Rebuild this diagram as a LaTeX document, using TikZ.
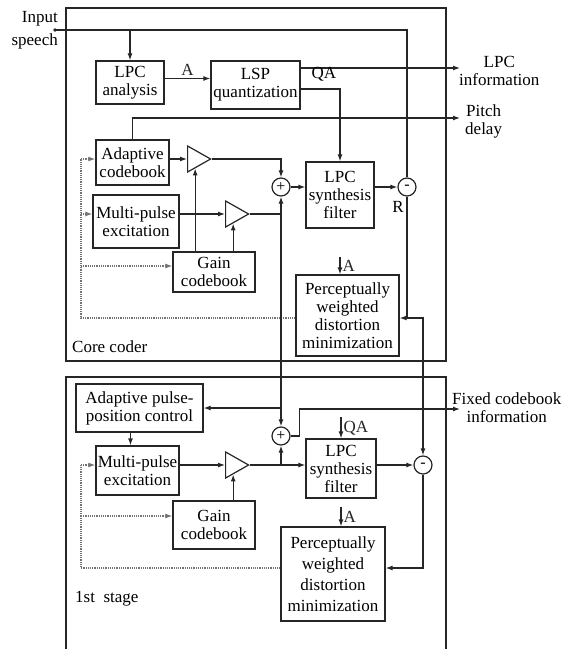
\documentclass[tikz,border=0pt]{standalone}
\usepackage{fontspec}
\setmainfont{Liberation Serif}
\usetikzlibrary{arrows.meta,positioning,shapes.geometric}
\newcommand{\dfont}{\fontsize{17}{18}\selectfont}
\tikzset{
  bloque/.style={
    draw=black!85,
    line width=1.2pt,
    align=center,
    inner sep=1pt,
    font=\dfont
  },
  amp/.style={
    draw=black!85,
    line width=1.2pt,
    isosceles triangle,
    isosceles triangle stretches,
    minimum width=26pt,
    minimum height=23pt,
    inner sep=0pt,
    anchor=west
  },
  suma/.style={
    draw=black!85,
    line width=1.2pt,
    circle,
    minimum size=18pt,
    inner sep=0pt,
    font=\fontsize{16}{16}\selectfont
  },
  etiqueta/.style={
    font=\dfont,
    align=center,
    inner sep=0pt
  },
  linea/.style={
    line width=1.2pt,
    black!85
  },
  arrow/.style={
    -{Latex[length=7pt,width=5pt]},
    line width=1.2pt,
    black!85
  },
  realim/.style={
    line width=1.2pt,
    black!55,
    densely dotted
  }
}

\begin{document}
\begin{tikzpicture}[x=1pt,y=-1pt]
\useasboundingbox (0,0) rectangle (570,649);
% marcos
\draw[linea] (66,8) rectangle (446,361);
\draw[linea] (66,660) |- (446,377) -- (446,660);
\node[etiqueta,anchor=west] (core) at (72,347) {Core coder};
\node[etiqueta,anchor=west] (stage) at (75,599) {1st\ \ stage};

% core coder
\coordinate (in) at (55,30);
\fill[black!85] (in) circle (1.8pt);
\node[etiqueta,anchor=east,align=right] (intxt) at (58,30) {Input\\[5pt]speech};
\node[bloque,minimum width=68pt,minimum height=43pt] (lpca) at (130,82.5) {LPC\\analysis};
\node[bloque,minimum width=89pt,minimum height=48pt] (lsp) at (255.5,85) {LSP\\quantization};
\node[bloque,minimum width=73pt,minimum height=45pt] (adap) at (132.5,162.5) {Adaptive\\codebook};
\node[bloque,minimum width=86pt,minimum height=53pt] (mpa) at (136,221.5) {Multi-pulse\\excitation};
\node[bloque,minimum width=82pt,minimum height=40pt] (gana) at (214,272) {Gain\\codebook};
\node[bloque,minimum width=68pt,minimum height=66pt] (sina) at (340,195) {LPC\\synthesis\\filter};
\node[bloque,minimum width=103pt,minimum height=81pt] (pda) at (347.5,315.5) {Perceptually\\weighted\\distortion\\minimization};
\node[amp] (ga1) at (187,159) {};
\node[amp] (ga2) at (225,214) {};
\node[suma] (sa) at (281,187) {+};
\node[suma] (ra) at (407,187) {-};

\coordinate (lpcinfo) at (460,68);
\coordinate (pitch) at (460,118);
\node[etiqueta,anchor=west] (lpcinfotxt) at (459,71) {LPC\\information};
\node[etiqueta,anchor=west] (pitchtxt) at (465,121) {Pitch\\delay};

\draw[linea] (in) -| (ra.north);
\draw[arrow] (lpca.north |- in) -- (lpca.north);
\draw[arrow] ([yshift=4pt]lpca.east) -- ([yshift=4pt]lpca.east -| lsp.west) node[midway,above=2pt,etiqueta] (a1) {A};
\draw[arrow] ([yshift=17pt]lsp.east) -- (lpcinfo);
\draw[arrow] ([yshift=-4pt]lsp.east) -| (sina.north);
\node[etiqueta] (qa1) at (324,74) {QA};
\draw[arrow] (adap.north) |- (pitch);
\draw[arrow] (ga1.west -| adap.east) -- (ga1.west);
\draw[arrow] (ga1.apex) -| (sa.north);
\draw[arrow] (ga1.south |- gana.north) -- (ga1.south);
\draw[arrow] (ga2.west -| mpa.east) -- (ga2.west);
\draw[arrow] (ga2.south |- gana.north) -- (ga2.south);
\draw[linea] (ga2.apex) -- (ga2.apex -| sa.south);
\draw[arrow] (sa.south |- ga2.apex) -- (sa.south);
\draw[arrow] (sa.east) -- (sa.east -| sina.west);
\draw[arrow] (ra.west -| sina.east) -- (ra.west);
\node[etiqueta] (rlab) at (398,207) {R};
\coordinate (r1) at (ra.south |- 0,318);
\draw[arrow] (ra.south) -- (r1) -- (r1 -| pda.east);
\draw[arrow] ([yshift=-28pt]sina.south) -- (sina.south |- pda.north) node[midway,right=2pt,etiqueta] (a2) {A};

% realimentacion nucleo
\coordinate (fa) at (81,318);
\draw[realim] (pda.west |- fa) -- (fa) -- (fa |- ga1.west);
\draw[realim,-{Latex[length=7pt,width=5pt]}] (fa |- ga1.west) -- (ga1.west -| adap.west);
\draw[realim,-{Latex[length=7pt,width=5pt]}] (fa |- ga2.west) -- (ga2.west -| mpa.west);
\draw[realim,-{Latex[length=7pt,width=5pt]}] (fa |- 0,266) -- (gana.west |- 0,266);

% 1st stage
\node[bloque,minimum width=127pt,minimum height=48pt] (pos) at (139.5,408) {Adaptive pulse-\\position control};
\node[bloque,minimum width=83pt,minimum height=49pt] (mpb) at (137.5,470.5) {Multi-pulse\\excitation};
\node[bloque,minimum width=82pt,minimum height=48pt] (ganb) at (214,525) {Gain\\codebook};
\node[bloque,minimum width=70pt,minimum height=59pt] (sinb) at (341,468.5) {LPC\\synthesis\\filter};
\node[bloque,minimum width=104pt,minimum height=94pt] (pdb) at (333,574) {Perceptually\\[3pt]weighted\\[3pt]distortion\\[3pt]minimization};
\node[amp] (gb) at (225,465) {};
\node[suma] (sb) at (281,436) {+};
\node[suma] (rb) at (423,465) {-};

\coordinate (fixinfo) at (460,409);
\node[etiqueta,anchor=west] (fixtxt) at (452,408) {Fixed codebook\\information};

\draw[arrow] (sa.south |- ga2.apex) -- (sb.north);
\draw[arrow] (sa.south |- pos.east) -- (pos.east);
\draw[arrow] (sb.east) -- ++(9,0) |- (fixinfo);
\draw[arrow] ([xshift=-9pt]pos.south) -- ([xshift=-9pt]pos.south |- mpb.north);
\draw[arrow] (gb.west -| mpb.east) -- (gb.west);
\draw[arrow] (gb.apex) -- (gb.apex -| sinb.west);
\draw[arrow] (sb.south |- gb.apex) -- (sb.south);
\draw[arrow] (gb.south |- ganb.north) -- (gb.south);
\draw[arrow] ([yshift=21pt]sinb.north) -- (sinb.north) node[midway,right=2pt,etiqueta] (qa2) {QA};
\draw[arrow] (rb.west -| sinb.east) -- (rb.west);
\draw[arrow] (r1) -| (rb.north);
\coordinate (r2) at (rb.south |- 0,568);
\draw[arrow] (rb.south) -- (r2) -- (r2 -| pdb.east);
\draw[arrow] ([yshift=-8pt]sinb.south) -- (sinb.south |- pdb.north) node[midway,right=2pt,etiqueta] (a3) {A};

% realimentacion 1st stage
\coordinate (fb) at (81,568);
\draw[realim] (pdb.west |- fb) -- (fb) -- (fb |- gb.west);
\draw[realim,-{Latex[length=7pt,width=5pt]}] (fb |- gb.west) -- (gb.west -| mpb.west);
\draw[realim,-{Latex[length=7pt,width=5pt]}] (fb |- 0,516) -- (ganb.west |- 0,516);
\end{tikzpicture}
\end{document}
